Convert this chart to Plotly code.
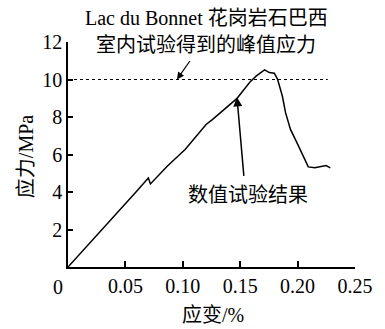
import plotly.graph_objects as go

strain = [0, 0.0243, 0.0356, 0.0497, 0.060, 0.070, 0.0718, 0.0864, 0.102, 0.1203, 0.126,
          0.147, 0.1585, 0.1641, 0.1712, 0.1754, 0.1797, 0.1825, 0.1867, 0.1895, 0.1938,
          0.1994, 0.2037, 0.2093, 0.215, 0.2192, 0.2248, 0.2285]
stress = [0, 1.62, 2.43, 3.32, 4.05, 4.75, 4.43, 5.37, 6.27, 7.6, 7.87,
          8.98, 9.87, 10.19, 10.51, 10.37, 10.34, 10.02, 9.12, 8.23, 7.34,
          6.63, 6.09, 5.34, 5.29, 5.34, 5.41, 5.29]

peak_x = [0, 0.2263]
peak_y = [10, 10]

x_ticks = [0.05, 0.10, 0.15, 0.20, 0.25]
x_tick_labels = ["0.05", "0.10", "0.15", "0.20", "0.25"]
y_ticks = [2, 4, 6, 8, 10, 12]
y_tick_labels = ["2", "4", "6", "8", "10", "12"]

FONT = "Liberation Serif, Noto Sans CJK SC"

fig = go.Figure()
fig.add_trace(go.Scatter(x=peak_x, y=peak_y, mode="lines",
                         line=dict(color="black", width=1, dash="dot"), showlegend=False))
fig.add_trace(go.Scatter(x=strain, y=stress, mode="lines",
                         line=dict(color="black", width=1.5), showlegend=False))

fig.update_layout(
    width=385, height=329,
    margin=dict(l=68, r=22, t=42, b=62),
    paper_bgcolor="white", plot_bgcolor="white",
    font=dict(family=FONT, size=20, color="black"),
    xaxis=dict(range=[0, 0.25], tickvals=x_ticks, ticktext=x_tick_labels,
               ticks="inside", ticklen=6, tickwidth=1.5, tickcolor="black",
               showline=True, linecolor="black", linewidth=1.5,
               showgrid=False, zeroline=False, tickfont=dict(size=20)),
    yaxis=dict(range=[0, 12], tickvals=y_ticks, ticktext=y_tick_labels,
               ticks="inside", ticklen=5, tickwidth=1.5, tickcolor="black",
               showline=True, linecolor="black", linewidth=1.5,
               showgrid=False, zeroline=False, tickfont=dict(size=20)),
)

paper_annos = [
    dict(x=-0.0339, y=-0.0889, text="0"),
    dict(x=0.4814, y=1.1067, text="Lac du Bonnet 花岗岩石巴西"),
    dict(x=0.4814, y=0.9867, text="室内试验得到的峰值应力"),
    dict(x=0.505, y=-0.2133, text="应变/%"),
    dict(x=-0.1458, y=0.4889, text="应力/MPa", textangle=-90),
]
for a in paper_annos:
    fig.add_annotation(xref="paper", yref="paper", showarrow=False,
                       xanchor="center", yanchor="middle", font=dict(size=20), **a)

fig.add_annotation(x=0.1568, y=3.86, xref="x", yref="y", text="数值试验结果",
                   showarrow=False, xanchor="center", yanchor="middle", font=dict(size=20))
fig.add_annotation(x=0.0949, y=10.0, xref="x", yref="y", text="", showarrow=True,
                   ax=14, ay=-20, axref="pixel", ayref="pixel",
                   arrowhead=2, arrowsize=1.2, arrowwidth=1.2, arrowcolor="black")
fig.add_annotation(x=0.1472, y=9.05, xref="x", yref="y", text="", showarrow=True,
                   ax=7, ay=80, axref="pixel", ayref="pixel",
                   arrowhead=2, arrowsize=1.2, arrowwidth=1.5, arrowcolor="black")

fig.write_html("out.html")
